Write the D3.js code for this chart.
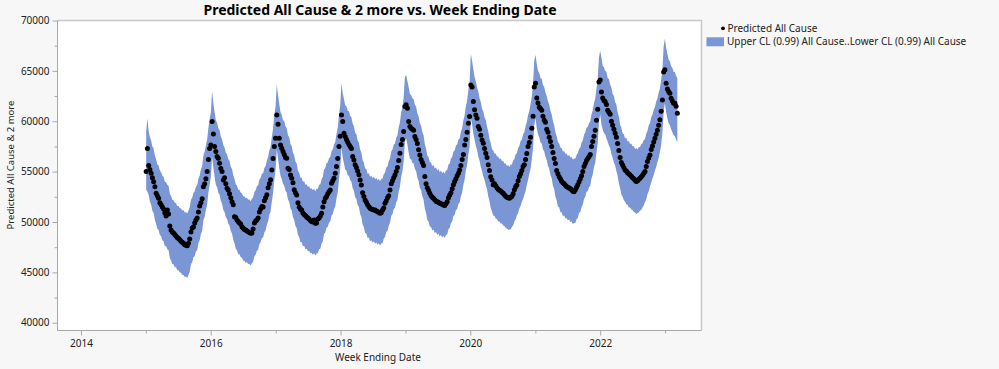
<!DOCTYPE html>
<html>
<head>
<meta charset="utf-8">
<script src="https://cdn.jsdelivr.net/npm/d3@7"></script>
<style>
  body { margin: 0; background: #f7f7f7; }
  svg { display: block; font-family: "Noto Sans", "Open Sans", sans-serif; }
</style>
</head>
<body>
<svg id="chart" width="999" height="369"></svg>
<script>
// weekly series, first week ending 2015-01-03
const firstWeek = "2015-01-03";

// one line per season (peak week in early January -> following December)
const predicted = [
  55000,57300,55600,55200,54850,54400,54000,53500,52850,52600,52350,51900,51700,51500,51300,50900,50600,51200,50800,49600,49200,49000,48900,48750,48600,48450,48350,48250,48100,48000,47900,47750,47700,47650,47900,48300,49000,49400,49500,49900,50200,50400,51000,51600,51900,52300,53500,53800,54300,55000,56200,57300,57650,
  59970,58740,57490,57000,56490,56330,55830,55300,55000,54180,54400,53800,53350,53180,52800,52400,52020,51700,50530,50450,50200,50040,49900,49800,49540,49380,49250,49200,49100,49040,48950,48880,48900,49300,49900,50100,50200,50400,51000,51300,51530,51500,52100,52400,52700,53400,53800,54200,55170,56300,57500,58300,
  60630,59700,58300,57650,57320,57000,56700,56400,56330,55330,55200,54670,54340,53900,53200,52900,52690,51900,51500,51300,51200,50900,50750,50650,50500,50400,50300,50150,50040,50000,50200,49870,49900,50300,50400,50600,50860,51500,52000,52360,52520,52800,53000,53180,53850,54100,54340,54840,55500,56300,57500,58500,
  60630,59970,58810,58480,58200,57950,57700,57490,57300,56500,56160,55670,55400,55050,54700,54180,53680,52900,52520,52190,51950,51700,51530,51360,51300,51250,51200,51200,51100,51050,50950,50860,50930,51200,51400,51860,52100,52400,52600,53180,53800,54100,54400,54670,55000,55400,56100,56820,57700,58200,58980,61460,
  61630,61300,59970,59470,59310,59200,59100,58480,58200,57800,57160,56660,56200,55900,55600,54510,53800,53400,53150,52850,52600,52450,52360,52200,52050,52000,51950,51860,51800,51750,51690,51630,51800,52000,52400,52690,52900,53300,53700,54010,54300,54600,54840,55170,55600,56200,56700,57650,58200,58900,59800,60470,
  63610,63400,61960,61130,60630,60300,59470,59200,58600,58150,57820,57300,56830,56400,55670,55100,54500,54180,53700,53800,53600,53400,53250,53150,53080,52950,52850,52700,52550,52450,52400,52360,52450,52550,52800,53200,53500,53680,54100,54510,54780,55100,55500,55670,56200,56800,57490,57900,58400,59300,60500,63400,
  63780,62300,61800,61400,61250,61100,60500,60100,59900,59200,58900,58400,58000,57500,56900,56300,55800,55100,54800,54500,54300,54050,53900,53800,53650,53520,53450,53380,53300,53200,53050,53000,53200,53450,53700,54000,54300,54600,55000,55500,55800,56100,56300,56500,56700,57500,58000,58500,59100,60100,61200,63900,
  64100,62900,62300,62050,61950,61650,61100,60900,60700,60000,59600,59200,58800,58400,57800,57100,56400,55900,55650,55400,55170,55050,54900,54800,54670,54550,54400,54300,54150,54010,54100,54250,54340,54480,54650,54850,55000,55500,56000,56350,56660,57200,57550,57950,58310,58700,59100,59600,60140,61000,62100,64900,
  65100,63780,63200,62950,62790,62290,62000,61790,61790,61500,60800
];

const upperCL = [
  59000,60300,59000,58400,58100,57500,57300,56600,56200,55700,55600,55100,54950,54600,54500,54000,53950,53700,53600,52800,52600,52200,52150,51900,51850,51600,51600,51400,51350,51150,51200,50950,51000,50850,51150,51450,52200,52400,52900,53050,53500,53650,54300,54600,55200,55550,56600,57000,57600,58200,59300,60200,60900,
  63000,61800,60900,60100,59850,59300,59100,58500,58200,57650,57400,56900,56700,56250,56050,55500,55250,54650,54300,53750,53600,53200,53200,52900,52850,52550,52550,52350,52400,52200,52250,52050,52300,52450,53000,53150,53550,53650,54200,54400,54800,54850,55350,55550,56100,56450,57100,57450,58400,59250,60600,61500,
  63600,62600,61700,60900,60650,60100,60000,59500,59300,58600,58400,57750,57550,56900,56600,56000,55800,55100,54900,54400,54400,54000,54050,53700,53750,53500,53550,53300,53350,53150,53300,53050,53300,53300,53700,53750,54250,54500,55200,55350,55850,55900,56350,56450,57050,57200,57700,57950,58750,59350,60600,61600,
  63800,62800,62200,61600,61500,61050,61000,60550,60400,59750,59500,58850,58700,58100,57900,57200,56900,56150,55900,55300,55250,54800,54850,54500,54600,54350,54500,54250,54400,54150,54300,54050,54300,54300,54750,54900,55400,55500,56050,56300,57000,57200,57700,57800,58350,58600,59400,59900,60900,61400,62400,64400,
  64600,64000,63400,62700,62600,62250,62200,61650,61450,60800,60500,59800,59550,58950,58600,57750,57300,56600,56450,55950,55900,55550,55650,55300,55400,55100,55250,54950,55100,54850,55000,54800,55100,55150,55700,55800,56300,56450,57000,57100,57600,57700,58200,58300,58950,59300,60100,60600,61500,62050,63100,63900,
  66700,66000,65150,64400,63950,63350,62950,62300,61900,61250,61000,60400,60100,59450,59000,58250,57850,57250,57100,56800,56800,56500,56500,56250,56300,56050,56050,55800,55800,55550,55650,55450,55700,55700,56100,56250,56700,56850,57350,57550,58050,58200,58700,58900,59500,59900,60650,61000,61700,62400,63700,66000,
  66600,65700,65000,64800,64300,64200,63600,63400,62850,62500,61950,61650,61050,60700,60000,59600,58900,58500,57950,57800,57400,57350,57000,57050,56750,56800,56550,56650,56400,56450,56200,56300,56300,56650,56850,57250,57400,57900,58100,58650,58900,59350,59450,59800,60000,60700,61100,61800,62250,63200,64200,66300,
  67000,66300,65500,65350,65000,64900,64300,64200,63650,63350,62700,62500,61900,61650,60900,60450,59650,59350,58800,58700,58300,58350,58000,58050,57750,57800,57500,57550,57250,57350,57200,57450,57450,57750,57800,58150,58250,58750,59050,59600,59800,60400,60650,61150,61400,61950,62250,62850,63250,64100,65100,67400,
  68200,67300,66700,66100,65950,65450,65300,64900,64900,64500,64300
];

const lowerCL = [
  53200,53000,52700,52000,51700,51100,50900,50200,49800,49300,49200,48700,48600,48200,48100,47600,47600,47300,47200,46400,46200,45800,45800,45500,45500,45200,45200,45000,44950,44750,44750,44550,44600,44450,44750,45050,45800,46000,46500,46600,47100,47200,47900,48200,48800,49100,50200,50500,51200,51700,52900,53700,54500,
  56500,55400,54500,53700,53450,52900,52700,52100,51800,51200,51000,50500,50300,49850,49650,49100,48850,48250,47900,47350,47200,46800,46800,46500,46450,46150,46150,45950,46000,45800,45850,45650,45900,46050,46600,46750,47150,47250,47800,48000,48400,48450,48950,49150,49700,50050,50700,51050,52000,52850,54200,55100,
  57200,56300,55300,54600,54250,53800,53600,53100,52900,52200,52000,51350,51150,50500,50200,49600,49400,48700,48500,48000,48000,47600,47650,47300,47350,47100,47150,46900,46950,46750,46900,46650,46900,46900,47300,47350,47850,48100,48800,48950,49450,49500,49950,50050,50650,50800,51300,51550,52350,52950,54200,55300,
  57400,56400,55800,55200,55100,54650,54600,54150,54000,53350,53100,52450,52300,51700,51500,50800,50500,49750,49500,48900,48850,48400,48450,48100,48200,47950,48100,47850,48000,47750,47900,47650,47900,47900,48350,48500,49000,49100,49650,49900,50600,50800,51300,51400,51950,52200,53000,53500,54500,55000,56000,58000,
  58300,57700,56900,56300,56200,55850,55800,55250,55050,54400,54100,53400,53150,52550,52200,51350,50900,50200,50050,49550,49500,49150,49250,48900,49000,48700,48850,48550,48700,48450,48600,48400,48700,48750,49300,49400,49900,50050,50600,50700,51200,51300,51800,51900,52550,52900,53700,54200,55100,55650,56700,57500,
  60300,59700,58800,58200,57550,57150,56500,56100,55450,55050,54550,54200,53650,53250,52550,52050,51400,51050,50650,50600,50350,50300,50050,50050,49850,49850,49650,49600,49400,49350,49200,49250,49250,49500,49650,50050,50250,50650,50900,51350,51600,52000,52250,52700,53050,53700,54200,54800,55250,56200,57300,59600,
  60300,59300,58700,58400,57900,57800,57200,57000,56450,56150,55550,55300,54650,54350,53600,53250,52500,52150,51550,51450,51000,50950,50600,50650,50350,50400,50150,50250,50000,50050,49800,49900,49900,50300,50400,50900,51000,51500,51700,52300,52500,53000,53050,53450,53600,54350,54700,55450,55850,56900,57800,59900,
  60700,59700,59200,58800,58700,58300,58000,57600,57350,56750,56400,55900,55600,55050,54600,53850,53350,52750,52500,52150,52000,51750,51700,51450,51450,51250,51200,51000,50950,50800,50900,50950,51150,51200,51450,51650,51950,52250,52750,53050,53500,53900,54350,54650,55100,55450,55950,56350,56950,57650,58800,61000,
  61800,60900,60300,59800,59600,59200,58900,58600,58500,58200,57900
];

const xMajorYears = [2014, 2016, 2018, 2020, 2022];
const xMinorYears = [2015, 2017, 2019, 2021, 2023];
const yMajorTicks = [40000, 45000, 50000, 55000, 60000, 65000, 70000];
const yMinorTicks = [42500, 47500, 52500, 57500, 62500, 67500];

const titleText = "Predicted All Cause & 2 more vs. Week Ending Date";
const xLabel = "Week Ending Date";
const yLabel = "Predicted All Cause & 2 more";
const legendItems = ["Predicted All Cause", "Upper CL (0.99) All Cause..Lower CL (0.99) All Cause"];

const bandColor = "#7b96d4";
const axisColor = "#a8a8a8";
const textColor = "#222";

const plot = { left: 57.5, right: 701.5, top: 20.5, bottom: 330.5 };

const parseDate = d3.timeParse("%Y-%m-%d");
const t0 = parseDate(firstWeek);
const rows = predicted.map((v, i) => ({
  date: d3.timeDay.offset(t0, 7 * i),
  pred: v,
  hi: upperCL[i],
  lo: lowerCL[i]
}));

const svg = d3.select("#chart");

const x = d3.scaleTime()
  .domain([parseDate("2013-08-22"), parseDate("2023-07-25")])
  .range([plot.left, plot.right]);
const y = d3.scaleLinear()
  .domain([39230, 70000])
  .range([plot.bottom, plot.top]);

// plot background
svg.append("rect")
  .attr("x", plot.left).attr("y", plot.top)
  .attr("width", plot.right - plot.left).attr("height", plot.bottom - plot.top)
  .attr("fill", "#fff");

// confidence band
const area = d3.area()
  .x(d => x(d.date))
  .y0(d => y(d.lo))
  .y1(d => y(d.hi));
svg.append("path")
  .datum(rows)
  .attr("d", area)
  .attr("fill", bandColor);

// predicted points
svg.append("g")
  .selectAll("circle")
  .data(rows)
  .join("circle")
  .attr("cx", d => x(d.date))
  .attr("cy", d => y(d.pred))
  .attr("r", 2.5)
  .attr("fill", "#000");

// frame top / right
svg.append("path")
  .attr("d", `M${plot.left},${plot.top}H${plot.right}V${plot.bottom}`)
  .attr("fill", "none")
  .attr("stroke", "#c8c8c8")
  .attr("stroke-width", 1.5);

// x axis
const yearDate = yr => new Date(yr, 0, 1);
const gx = svg.append("g")
  .attr("transform", `translate(0,${plot.bottom})`)
  .call(d3.axisBottom(x).tickValues(xMajorYears.map(yearDate)).tickFormat(d3.timeFormat("%Y")).tickSize(5).tickPadding(4));
svg.append("g")
  .attr("transform", `translate(0,${plot.bottom})`)
  .call(d3.axisBottom(x).tickValues(xMinorYears.map(yearDate)).tickFormat("").tickSize(3))
  .call(g => g.select(".domain").remove());

// y axis
const gy = svg.append("g")
  .attr("transform", `translate(${plot.left},0)`)
  .call(d3.axisLeft(y).tickValues(yMajorTicks).tickFormat(d3.format("d")).tickSize(5).tickPadding(3));
svg.append("g")
  .attr("transform", `translate(${plot.left},0)`)
  .call(d3.axisLeft(y).tickValues(yMinorTicks).tickFormat("").tickSize(3))
  .call(g => g.select(".domain").remove());

svg.selectAll(".domain").attr("stroke", axisColor).attr("d", null);
gx.select(".domain").attr("d", `M${plot.left},0H${plot.right}`);
gy.select(".domain").attr("d", `M0,${plot.top}V${plot.bottom}`);
svg.selectAll(".tick line").attr("stroke", axisColor);
svg.selectAll(".tick text")
  .attr("fill", textColor)
  .style("font-size", "10px")
  .style("font-family", "'Noto Sans', sans-serif");

// title and axis labels
svg.append("text")
  .attr("x", 380)
  .attr("y", 15)
  .attr("text-anchor", "middle")
  .style("font-size", "14px")
  .style("font-weight", "bold")
  .attr("fill", "#000")
  .text(titleText);

svg.append("text")
  .attr("x", 378)
  .attr("y", 361)
  .attr("text-anchor", "middle")
  .style("font-size", "10px")
  .attr("fill", textColor)
  .text(xLabel);

svg.append("text")
  .attr("transform", `translate(14,165) rotate(-90)`)
  .attr("text-anchor", "middle")
  .style("font-size", "9.5px")
  .attr("fill", textColor)
  .text(yLabel);

// legend
const legend = svg.append("g");
legend.append("circle")
  .attr("cx", 723).attr("cy", 28.3).attr("r", 1.9)
  .attr("fill", "#000");
legend.append("text")
  .attr("x", 727.5).attr("y", 28.3).attr("dy", "0.35em")
  .style("font-size", "10px")
  .attr("fill", textColor)
  .text(legendItems[0]);
legend.append("rect")
  .attr("x", 706.5).attr("y", 37.3).attr("width", 17.5).attr("height", 9)
  .attr("fill", bandColor);
legend.append("text")
  .attr("x", 727).attr("y", 41.8).attr("dy", "0.35em")
  .style("font-size", "10px")
  .attr("fill", textColor)
  .text(legendItems[1]);
</script>
</body>
</html>
